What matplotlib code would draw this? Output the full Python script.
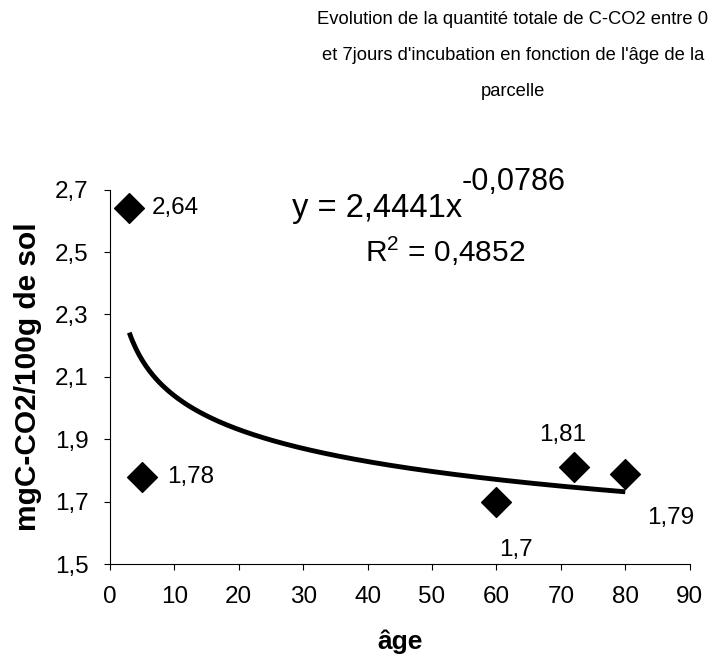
import numpy as np
import matplotlib.pyplot as plt
from matplotlib.ticker import FuncFormatter

plt.rcParams['font.family'] = ['Liberation Sans', 'DejaVu Sans']

# âge de la parcelle et quantité de C-CO2 (mg / 100 g de sol)
age = [3, 5, 60, 72, 80]
cco2 = [2.64, 1.78, 1.7, 1.81, 1.79]
etiquettes = ['2,64', '1,78', '1,7', '1,81', '1,79']
# décalages des étiquettes en points
decalages = [(16, 0), (18, 0), (14, -35), (-8, 23), (16, -32)]
alignements = ['left', 'left', 'center', 'center', 'left']

# courbe de tendance puissance
a, b = 2.4441, -0.0786
r2 = 0.4852

fig = plt.figure(figsize=(7.14, 6.63), dpi=100)
ax = fig.add_axes([0.154, 0.149, 0.812, 0.565])

xs = np.linspace(min(age), max(age), 300)
ax.plot(xs, a * xs ** b, color='black', lw=3.5, solid_capstyle='butt')
ax.scatter(age, cco2, marker='D', s=230, color='black', zorder=3, clip_on=False)

for xi, yi, t, d, ha in zip(age, cco2, etiquettes, decalages, alignements):
    ax.annotate(t, (xi, yi), xytext=d, textcoords='offset points',
                ha=ha, va='center', fontsize=17.5)

# équation et coefficient de détermination
fig.text(0.409, 1 - 217 / 663, 'y = 2,4441x', fontsize=23.5, va='baseline')
fig.text(0.647, 1 - 190 / 663, '-0,0786', fontsize=22, va='baseline')
fig.text(0.623, 1 - 262 / 663, 'R$^{\\mathregular{2}}$ = ' + f'{r2}'.replace('.', ','),
         fontsize=21.5, va='baseline', ha='center')

ax.set_xlim(0, 90)
ax.set_ylim(1.5, 2.7)
ax.set_xticks(np.arange(0, 91, 10))
ax.set_yticks(np.arange(1.5, 2.71, 0.2))
ax.yaxis.set_major_formatter(FuncFormatter(lambda v, p: f'{v:.1f}'.replace('.', ',')))
ax.tick_params(labelsize=17.5, length=4.5, direction='out', width=0.8, pad=11)
for s in ['top', 'right']:
    ax.spines[s].set_visible(False)

ax.set_xlabel('âge', fontsize=19, fontweight='bold', labelpad=16)
ax.set_ylabel('mgC-CO2/100g de sol', fontsize=21.5, fontweight='bold', labelpad=9)

fig.text(0.718, 0.983, "Evolution de la quantité totale de C-CO2 entre 0\n"
         "et 7jours d'incubation en fonction de l'âge de la\nparcelle",
         ha='center', va='top', fontsize=13.2, linespacing=2.45)

fig.savefig('out.png', dpi=100)
